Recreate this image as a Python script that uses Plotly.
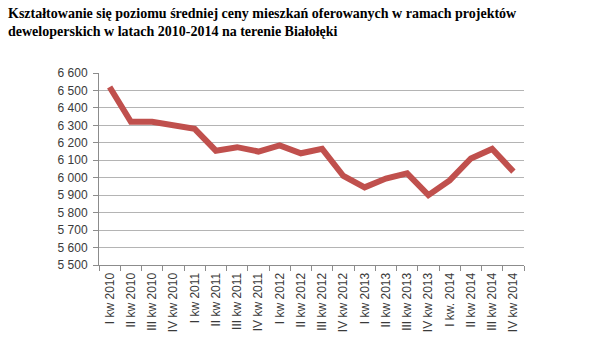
import plotly.graph_objects as go

quarters = [
    "I kw 2010", "II kw 2010", "III kw 2010", "IV kw 2010",
    "I kw 2011", "II kw 2011", "III kw 2011", "IV kw 2011",
    "I kw 2012", "II kw 2012", "III kw 2012", "IV kw 2012",
    "I kw 2013", "II kw 2013", "III kw 2013", "IV kw 2013",
    "I kw. 2014", "II kw 2014", "III kw 2014", "IV kw 2014",
]
avg_price = [
    6520, 6320, 6320, 6300,
    6280, 6155, 6175, 6150,
    6185, 6140, 6165, 6010,
    5945, 5995, 6025, 5900,
    5985, 6110, 6165, 6035,
]
y_ticks = list(range(5500, 6601, 100))

title_text = ("Kształtowanie się poziomu średniej ceny mieszkań oferowanych w ramach projektów<br>"
              "deweloperskich w latach 2010-2014 na terenie Białołęki")

W, H = 596, 344
ML, MR, MT, MB = 99, 72, 73, 76
plot_w = W - ML - MR
plot_h = H - MT - MB

fig = go.Figure()
fig.add_trace(go.Scatter(
    x=quarters, y=avg_price, mode="lines",
    line=dict(color="#C0504D", width=6),
    hoverinfo="x+y",
))

fig.add_annotation(
    text=title_text,
    xref="paper", yref="paper",
    x=(6 - ML) / plot_w, y=1 + (MT - 3) / plot_h,
    xanchor="left", yanchor="top", align="left",
    showarrow=False,
    font=dict(family="Liberation Serif, DejaVu Serif, serif", size=14, color="#000000",
              weight="bold"),
)

fig.update_layout(
    width=W, height=H,
    margin=dict(l=ML, r=MR, t=MT, b=MB),
    paper_bgcolor="white", plot_bgcolor="white",
    separators=", ",
    showlegend=False,
    font=dict(family="Liberation Sans, Arial, sans-serif", size=12, color="#404040"),
)

fig.update_xaxes(
    type="category",
    range=[-0.5, len(quarters) - 0.5],
    tickangle=-90,
    tickson="boundaries",
    ticks="outside", ticklen=5, tickcolor="#8C8C8C",
    showline=True, linecolor="#8C8C8C", linewidth=1,
    showgrid=False,
    ticklabelstandoff=2,
    tickfont=dict(size=12, color="#3A3A3A"),
)
fig.update_yaxes(
    range=[5500, 6600],
    tickvals=y_ticks,
    tickformat=",d",
    ticks="outside", ticklen=5, tickcolor="#8C8C8C",
    showline=True, linecolor="#8C8C8C", linewidth=1,
    showgrid=True, gridcolor="#B4B4B4", gridwidth=1,
    zeroline=False,
    ticklabelstandoff=3,
    tickfont=dict(size=12, color="#3A3A3A"),
)

fig.write_html("out.html")
